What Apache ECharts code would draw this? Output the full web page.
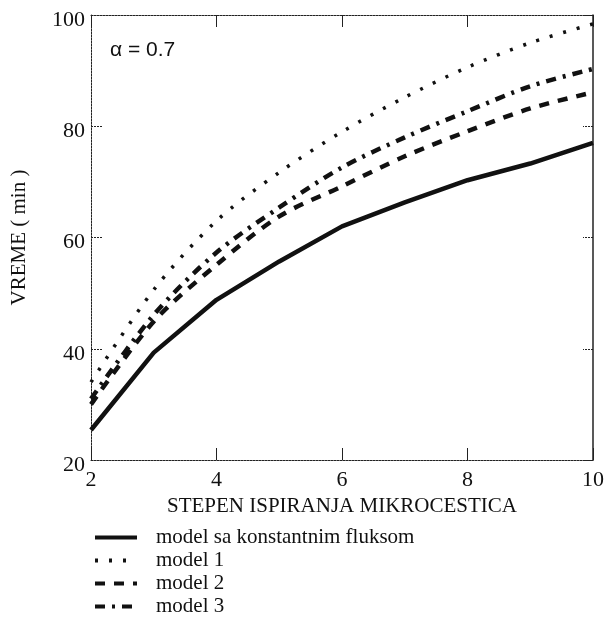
<!DOCTYPE html>
<html>
<head>
<meta charset="utf-8">
<script src="https://cdn.jsdelivr.net/npm/echarts@6/dist/echarts.min.js"></script>
<style>
  html, body { margin: 0; padding: 0; background: #fff; }
  #chart { width: 608px; height: 619px; }
</style>
</head>
<body>
<div id="chart"></div>
<script>
// stepen ispiranja (x) i vreme u minutima (y)
const xValues = [2, 3, 4, 5, 6, 7, 8, 9, 10];
const konstFluks = [25.4, 39.3, 48.8, 55.7, 62, 66.3, 70.3, 73.3, 77];
const model1 = [34, 50.6, 63, 71.7, 79, 85.2, 90.6, 95, 98.4];
const model2 = [30, 44.9, 55.1, 63.8, 69.2, 74.6, 79.1, 83.2, 86.1];
const model3 = [31, 46.1, 57.3, 65.4, 72.6, 78, 82.7, 87.2, 90.3];
const yTicks = [20, 40, 60, 80, 100];
const xTicks = [2, 4, 6, 8, 10];

const serif = 'Liberation Serif';

function pairs(ys) {
  return xValues.map((x, i) => [x, ys[i]]);
}

const myChart = echarts.init(document.getElementById('chart'));

const frameLine = { show: true, lineStyle: { color: '#222', width: 1, type: [2, 1] } };

myChart.setOption({
  animation: false,
  grid: { left: 91, right: 15, top: 15, bottom: 159 },
  legend: {
    orient: 'vertical',
    left: 93,
    top: 527,
    padding: 0,
    itemWidth: 42,
    itemHeight: 14,
    itemGap: 2,
    itemStyle: { opacity: 0 },
    lineStyle: { width: 4 },
    textStyle: { fontFamily: serif, fontSize: 21, lineHeight: 20, color: '#111', padding: [0, 0, 0, 14] },
    data: ['model sa konstantnim fluksom', 'model 1', 'model 2', 'model 3'],
  },
  xAxis: [
    {
      type: 'value',
      min: 2,
      max: 10,
      interval: 2,
      name: 'STEPEN ISPIRANJA MIKROCESTICA',
      nameLocation: 'middle',
      nameGap: 36,
      nameTextStyle: { fontFamily: serif, fontSize: 21, color: '#111' },
      axisLine: frameLine,
      axisTick: { show: true, inside: true, length: 12, lineStyle: { color: '#222' } },
      splitLine: { show: false },
      axisLabel: {
        fontFamily: serif, fontSize: 22, color: '#111', margin: 9,
        formatter: v => xTicks.includes(v) ? String(v) : '',
      },
    },
    {
      type: 'value',
      position: 'top',
      min: 2,
      max: 10,
      interval: 2,
      axisLine: frameLine,
      axisTick: { show: true, inside: true, length: 12, lineStyle: { color: '#222' } },
      axisLabel: { show: false },
      splitLine: { show: false },
    },
  ],
  yAxis: [
    {
      type: 'value',
      min: 20,
      max: 100,
      interval: 20,
      name: 'VREME ( min )',
      nameLocation: 'middle',
      nameGap: 61,
      nameTextStyle: { fontFamily: serif, fontSize: 21, color: '#111' },
      axisLine: frameLine,
      axisTick: { show: true, inside: true, length: 12, lineStyle: { color: '#222', type: [2, 1] } },
      splitLine: { show: false },
      axisLabel: {
        fontFamily: serif, fontSize: 22, color: '#111', margin: 6,
        verticalAlign: 'top', lineHeight: 10,
        formatter: v => yTicks.includes(v) ? String(v) : '',
      },
    },
    {
      type: 'value',
      position: 'right',
      min: 20,
      max: 100,
      interval: 20,
      axisLine: { show: true, lineStyle: { color: '#222', width: 1.5 } },
      axisTick: { show: true, inside: true, length: 10, lineStyle: { color: '#222', type: [2, 1] } },
      axisLabel: { show: false },
      splitLine: { show: false },
    },
  ],
  graphic: [
    {
      type: 'text',
      left: 110,
      top: 40,
      style: { text: 'α = 0.7', font: '21px "Liberation Sans"', fill: '#111' },
    },
  ],
  series: [
    {
      name: 'model sa konstantnim fluksom',
      type: 'line',
      symbol: 'none',
      data: pairs(konstFluks),
      lineStyle: { color: '#111', width: 4.5 },
      itemStyle: { color: '#111' },
    },
    {
      name: 'model 1',
      type: 'line',
      symbol: 'none',
      smooth: 0.3,
      data: pairs(model1),
      lineStyle: { color: '#111', width: 3.5, type: [3, 11] },
      itemStyle: { color: '#111' },
    },
    {
      name: 'model 2',
      type: 'line',
      symbol: 'none',
      smooth: 0.3,
      data: pairs(model2),
      lineStyle: { color: '#111', width: 4.5, type: [10, 9] },
      itemStyle: { color: '#111' },
    },
    {
      name: 'model 3',
      type: 'line',
      symbol: 'none',
      smooth: 0.3,
      data: pairs(model3),
      lineStyle: { color: '#111', width: 4.5, type: [10, 7, 3, 7] },
      itemStyle: { color: '#111' },
    },
  ],
});
</script>
</body>
</html>
